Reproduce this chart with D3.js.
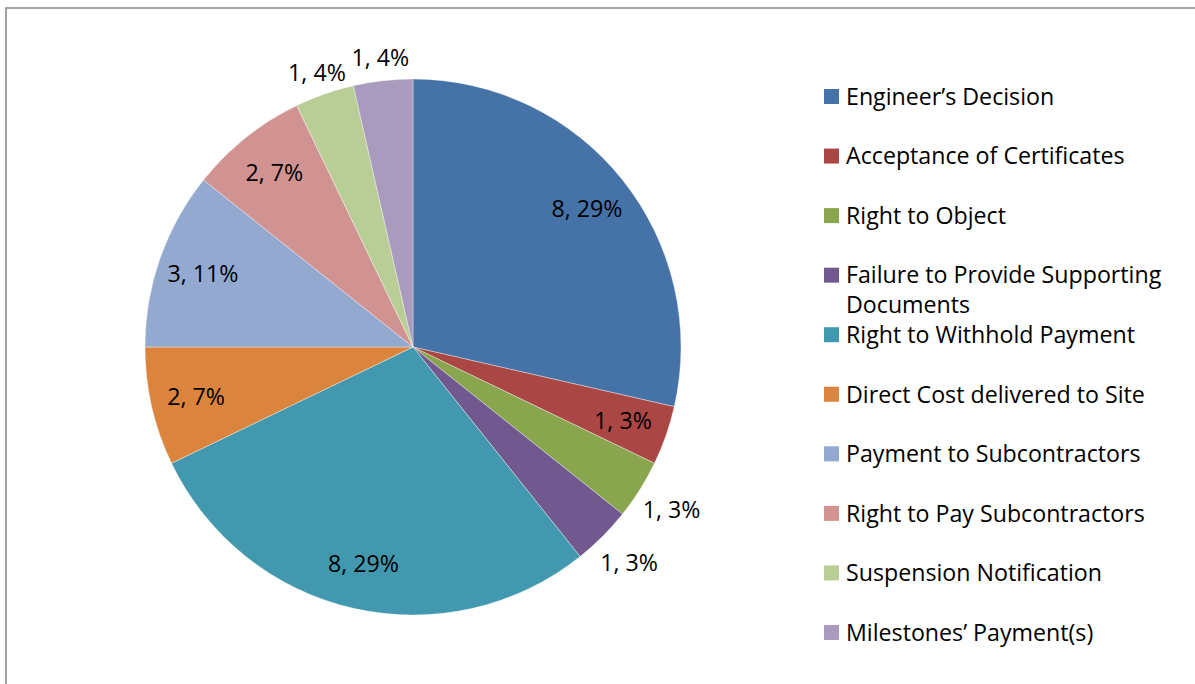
<!DOCTYPE html>
<html><head><meta charset="utf-8">
<script src="https://cdn.jsdelivr.net/npm/d3@7"></script>
<style>html,body{margin:0;padding:0;background:#fff;}svg{display:block;}</style>
</head><body>
<svg id="chart" width="1195" height="684"></svg>
<script>
const categories = ["Engineer\u2019s Decision","Acceptance of Certificates","Right to Object","Failure to Provide Supporting Documents","Right to Withhold Payment","Direct Cost delivered to Site","Payment to Subcontractors","Right to Pay Subcontractors","Suspension Notification","Milestones\u2019 Payment(s)"];
const values = [8,1,1,1,8,2,3,2,1,1];
const percentLabels = ["29%","3%","3%","3%","29%","7%","11%","7%","4%","4%"];
const colors = ["#4572A7","#AA4643","#89A54E","#71588F","#4198AF","#DB843D","#93A9CF","#D19392","#B9CD96","#A99BBD"];
const labelOutside = [false,false,true,true,false,false,false,false,true,true];
const legendLines = [["Engineer\u2019s Decision"],["Acceptance of Certificates"],["Right to Object"],["Failure to Provide Supporting","Documents"],["Right to Withhold Payment"],["Direct Cost delivered to Site"],["Payment to Subcontractors"],["Right to Pay Subcontractors"],["Suspension Notification"],["Milestones\u2019 Payment(s)"]];

const svg = d3.select("#chart");
const FONT = "'Open Sans', Lato, sans-serif";
const FS = 23.2;
const CAPMID = FS*0.357;

// chart frame
svg.append("rect").attr("x",6).attr("y",8).attr("width",1200).attr("height",690)
  .attr("fill","#fff").attr("stroke","#8c8c8c").attr("stroke-width",1.6);

const cx = 413, cy = 347, R = 268;
const g = svg.append("g").attr("transform",`translate(${cx},${cy})`);
const pie = d3.pie().sort(null).value(d=>d);
const arcs = pie(values);
const arc = d3.arc().innerRadius(0).outerRadius(R);
const inArc = d3.arc().innerRadius(R*0.83).outerRadius(R*0.83);
const outArcTop = d3.arc().innerRadius(R*1.085).outerRadius(R*1.085);
const outArcSide = d3.arc().innerRadius(R*1.14).outerRadius(R*1.14);

g.selectAll("path.slice").data(arcs).enter().append("path")
  .attr("class","slice").attr("d",arc)
  .attr("fill",(d,i)=>colors[i]).attr("stroke","#fff").attr("stroke-width",0.6).attr("stroke-opacity",0.6);

g.selectAll("text.lbl").data(arcs).enter().append("text")
  .attr("class","lbl")
  .attr("transform",(d,i)=>{
    const a = !labelOutside[i] ? inArc : (i>=8 ? outArcTop : outArcSide);
    return `translate(${a.centroid(d)})`;
  })
  .attr("text-anchor","middle").attr("dy",CAPMID)
  .attr("font-family",FONT).attr("font-size",FS).attr("fill","#000")
  .text((d,i)=>`${values[i]}, ${percentLabels[i]}`);

// legend
const ly = d3.scaleLinear().domain([0,9]).range([96.5,632.5]);
const leg = svg.append("g");
categories.forEach((c,i)=>{
  const y = ly(i);
  leg.append("rect").attr("x",824).attr("y",y-7.5).attr("width",15).attr("height",15).attr("fill",colors[i]);
  const t = leg.append("text").attr("x",846).attr("y",y+CAPMID)
    .attr("font-family",FONT).attr("font-size",FS).attr("fill","#000");
  legendLines[i].forEach((ln,k)=>{
    t.append("tspan").attr("x",846).attr("dy",k===0?0:30).text(ln);
  });
});
</script>
</body></html>
